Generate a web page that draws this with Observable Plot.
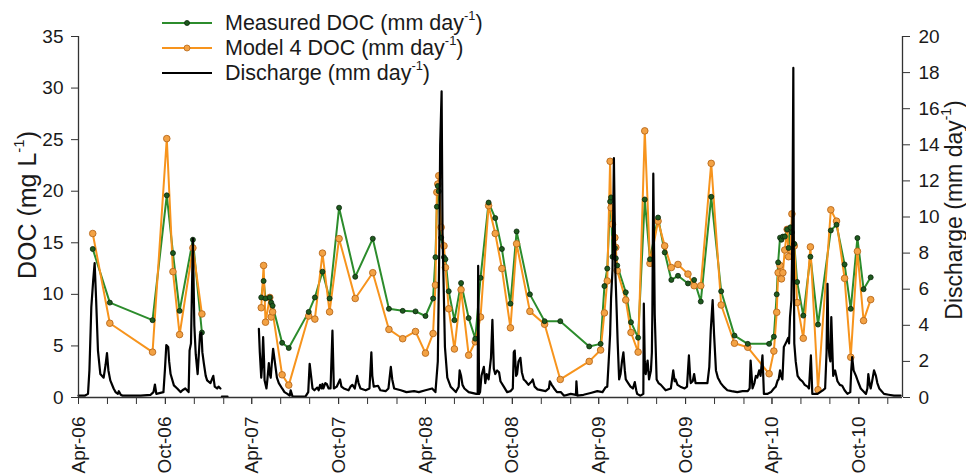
<!DOCTYPE html>
<html>
<head>
<meta charset="utf-8">
<script src="https://cdn.jsdelivr.net/npm/d3@7"></script>
<script src="https://cdn.jsdelivr.net/npm/@observablehq/plot@0.6"></script>
<style>
  body { margin: 0; background: #fff; }
  #wrap { position: relative; width: 966px; height: 475px; font-family: "Liberation Sans", Arial, sans-serif; color: #1a1a1a; }
  #wrap > svg { position: absolute; left: 0; top: 0; }
  .lrow { position: absolute; left: 162px; height: 26px; display: flex; align-items: center; white-space: nowrap; font-size: 21.5px; }
  .lrow svg { display: block; margin-right: 13px; flex: none; }
  sup { font-size: 0.6em; line-height: 0; vertical-align: 0.75em; }
  .atitle { position: absolute; white-space: nowrap; transform: translate(-50%, -50%) rotate(-90deg); }
</style>
</head>
<body>
<div id="wrap"></div>
<script>
// ---- DOC samples (mg L-1) ----
const sampleDates = [
  "2006-05-01","2006-06-06","2006-09-04","2006-10-04","2006-10-17","2006-10-31","2006-11-28","2006-12-17",
  "2007-04-21","2007-04-26","2007-04-30","2007-05-09","2007-05-12","2007-05-15","2007-06-04","2007-06-18",
  "2007-07-30","2007-08-12","2007-08-28","2007-09-12","2007-10-02","2007-11-05","2007-12-12","2008-01-15",
  "2008-02-13","2008-03-11","2008-04-01","2008-04-17","2008-04-22","2008-04-25","2008-04-27","2008-04-29",
  "2008-05-04","2008-05-10","2008-05-13","2008-05-20","2008-06-01","2008-06-15","2008-07-01","2008-07-15",
  "2008-07-26","2008-08-12","2008-08-26","2008-09-09","2008-09-27","2008-10-10","2008-11-07","2008-12-08",
  "2009-01-10","2009-03-12","2009-04-05","2009-04-13","2009-04-19","2009-04-25","2009-04-27","2009-04-30",
  "2009-05-05","2009-05-07","2009-05-10","2009-05-28","2009-06-08","2009-06-23","2009-07-07","2009-07-18",
  "2009-08-04","2009-08-18","2009-09-01","2009-09-15","2009-10-06","2009-10-19","2009-11-02","2009-11-24",
  "2009-12-15","2010-01-12","2010-02-09","2010-03-26","2010-04-05","2010-04-11","2010-04-14","2010-04-18",
  "2010-04-21","2010-04-24","2010-04-28","2010-05-03","2010-05-06","2010-05-10","2010-05-13","2010-05-18",
  "2010-05-24","2010-06-06","2010-06-21","2010-07-07","2010-08-03","2010-08-15","2010-09-01","2010-09-14",
  "2010-09-28","2010-10-11","2010-10-26"
];
const measuredDOC = [
  14.4, 9.2, 7.5, 19.6, 14.0, 8.4, 15.3, 6.3,
  9.7, 11.3, 9.6, 9.7, 9.2, 8.9, 5.3, 4.8,
  8.3, 9.7, 12.2, 9.6, 18.4, 11.7, 15.4, 8.6,
  8.4, 8.35, 7.9, 9.6, 13.6, 18.5, 20.5, 20.0,
  15.5, 13.6, 13.4, 10.3, 7.5, 11.1, 7.7, 5.7,
  11.6, 18.9, 17.4, 14.4, 9.1, 16.1, 10.0, 7.4,
  7.4, 4.95, 5.2, 10.8, 12.5, 19.0, 19.4, 13.65,
  14.5, 13.5, 12.8, 10.2, 7.3, 5.8, 19.2, 13.4,
  17.45, 14.07, 11.4, 11.8, 11.06, 11.4, 9.3, 19.46,
  10.3, 6.0, 5.2, 5.2, 5.9, 10.0, 13.1, 15.5,
  15.3, 15.6, 15.6, 16.3, 14.5, 16.5, 16.0, 14.9,
  11.2, 7.94, 13.65, 7.07, 16.2, 16.75, 12.9, 8.6,
  15.46, 10.5, 11.65
];
const modelDOC = [
  15.9, 7.2, 4.4, 25.1, 12.2, 6.1, 14.5, 8.1,
  8.7, 12.8, 7.3, 9.7, 7.8, 8.3, 2.2, 1.2,
  7.9, 7.6, 14.0, 8.3, 15.4, 9.6, 12.1, 6.6,
  5.7, 6.4, 4.3, 6.2, 10.9, 19.9, 20.7, 21.5,
  16.5, 14.7, 12.6, 8.6, 4.7, 10.45, 4.1, 5.4,
  7.8, 18.6, 15.9, 12.5, 6.75, 14.9, 8.35, 7.1,
  1.75, 3.5, 4.6, 8.2, 11.3, 22.9, 18.4, 16.8,
  15.5, 14.55, 12.3, 9.45, 6.3, 4.4, 25.85, 13.0,
  17.1, 14.7, 12.6, 12.9, 11.97, 10.84, 10.84, 22.7,
  8.97, 5.26, 4.87, 2.3, 4.5, 8.26, 12.1, 12.8,
  11.5, 12.1, 14.3, 16.3, 13.65, 14.3, 17.8, 14.7,
  9.2, 5.74, 14.6, 0.75, 18.2, 17.1, 11.55, 3.9,
  14.17, 7.45, 9.49
];
// sampling break (winter 2006/07, no samples)
const gapDate = "2007-02-01";

// ---- Discharge (mm day-1): days since 1 Apr 2006, value; null = no record ----
const qStart = "2006-04-01";
const qDay = [
  0,13,20,23,27,31,34,37,41,46,53,57,60,63,67,74,78,83,85,89,93,131,152,158,161,164,179,182,185,189,191,194,
  201,208,215,219,225,232,234,237,241,244,247,251,256,259,261,264,268,271,278,281,284,287,292,295,299,300,302,314,320,
  380,382,385,387,389,391,392,396,398,401,403,405,407,410,412,414,418,422,429,434,440,445,447,451,478,484,487,490,493,
  497,503,506,509,512,514,516,520,523,527,531,535,538,544,551,554,559,569,573,577,582,587,590,594,605,613,617,619,622,
  631,636,647,653,658,661,665,679,691,707,717,731,745,752,757,760,762,765,767,772,777,784,795,801,803,806,809,813,822,
  838,841,842,844,846,849,854,857,860,864,869,872,875,878,882,886,889,896,903,910,915,917,919,922,924,927,931,934,938,
  942,948,955,957,961,967,984,991,993,997,1002,1008,1016,1023,1037,1048,1049,1051,1064,1079,1093,1104,1110,1114,1117,
  1120,1122,1125,1127,1128,1131,1134,1136,1139,1142,1145,1148,1151,1153,1158,1163,1168,1172,1175,1177,1184,1190,1191,
  1193,1195,1199,1202,1206,1208,1209,1211,1214,1218,1222,1227,1237,1248,1253,1256,1258,1262,1268,1277,1282,1286,1289,
  1290,1294,1297,1300,1311,1325,1329,1332,1336,1339,1343,1347,1353,1359,1367,1376,1388,1399,1410,1414,1416,1420,1424,
  1427,1430,1434,1437,1441,1444,1451,1459,1465,1469,1473,1475,1478,1480,1483,1486,1490,1495,1497,1499,1502,1504,1506,
  1507,1508,1511,1515,1520,1525,1530,1536,1539,1543,1546,1557,1568,1573,1576,1578,1580,1582,1584,1586,1589,1590,1594,
  1599,1604,1609,1614,1620,1626,1628,1630,1633,1638,1642,1648,1659,1662,1664,1667,1669,1672,1676,1680,1683,1687,1697,
  1707,1718,1732
];
const qVal = [
  0.1,0.1,0.2,1.5,5.0,6.5,7.45,5.5,2.6,1.3,1.1,1.8,2.46,1.5,0.95,0.5,0.3,0.2,0.35,0.15,0.1,0.1,0.15,0.3,0.72,0.2,0.3,1.5,2.9,2.8,2.0,1.3,
  0.67,0.5,0.3,0.4,0.5,0.3,2.6,3.0,8.8,4.0,2.4,1.3,3.5,3.6,2.5,1.9,1.2,0.95,0.8,1.0,1.2,0.6,0.5,0.6,0.5,null,0.05,0.05,null,
  3.8,2.5,1.1,1.8,3.35,2.0,0.95,0.5,1.0,1.9,1.3,1.1,1.8,2.7,2.3,1.9,1.1,0.8,0.5,0.3,0.2,0.1,0.4,0.05,0.05,0.3,1.87,1.2,0.5,
  0.4,0.55,0.4,0.7,0.5,0.75,0.5,0.8,0.75,0.5,0.5,3.7,0.5,0.6,1.0,0.6,0.5,0.4,0.6,0.7,0.5,1.2,0.8,0.5,0.4,0.5,2.5,1.2,0.6,
  0.65,0.4,0.35,0.5,1.7,1.0,0.5,0.4,0.3,0.35,0.3,0.4,0.5,0.3,2.0,8.0,14.0,16.96,9.0,2.8,1.1,0.6,0.3,0.6,1.5,1.2,0.7,0.5,0.3,
  0.2,0.2,7.3,0.2,0.3,1.2,1.7,0.8,1.3,1.0,2.2,4.3,1.6,1.3,1.5,1.4,0.9,0.6,0.3,0.35,0.5,2.5,2.6,1.2,1.3,2.0,2.2,1.4,1.0,
  0.9,0.7,0.9,1.0,0.6,0.45,0.35,0.5,0.9,0.7,0.5,0.3,0.3,0.1,0.2,0.15,0.9,0.1,0.15,0.25,0.35,0.3,0.55,0.6,2.0,
  3.5,5.5,7.06,11.0,13.26,7.0,4.65,3.0,1.0,1.3,2.0,2.5,1.5,1.0,0.8,0.6,0.5,0.85,0.4,0.2,0.1,0.2,5.2,
  2.0,1.3,2.05,1.0,1.5,2.5,4.65,12.4,4.6,1.0,0.8,0.7,0.4,0.5,1.5,0.9,1.0,0.7,0.6,0.5,0.6,2.33,1.0,
  0.8,0.9,1.3,0.8,0.8,0.8,1.7,3.7,5.4,3.5,1.5,1.1,0.8,0.6,0.4,0.35,0.3,0.35,0.35,0.5,2.05,0.5,0.8,
  1.2,1.1,1.5,1.2,2.33,0.2,0.2,0.3,0.5,0.6,0.95,1.0,1.5,1.2,1.0,2.8,3.0,3.3,3.0,4.46,5.4,9.0,18.26,
  8.0,3.0,2.0,1.2,1.0,0.9,0.7,0.6,0.5,2.33,0.2,0.2,0.4,0.5,2.5,6.3,3.0,2.3,2.0,4.46,2.0,1.2,1.5,
  0.9,0.7,0.65,0.4,0.2,0.3,1.5,2.24,1.5,1.2,0.9,0.5,0.2,0.5,1.3,0.7,0.5,0.9,1.5,1.2,0.8,0.5,0.2,
  0.15,0.1,0.1
];

// ---- axes ----
const xDomain = ["2006-04-01", "2011-01-01"];
const xLabelTicks = ["2006-04-01","2006-10-01","2007-04-01","2007-10-01","2008-04-01","2008-10-01","2009-04-01","2009-10-01","2010-04-01","2010-10-01"];
const docTicks = [0, 5, 10, 15, 20, 25, 30, 35];
const qTicks = [0, 2, 4, 6, 8, 10, 12, 14, 16, 18, 20];
const docMax = 35, qMax = 20;

// ---- build tables ----
const k = docMax / qMax;
const x0 = new Date(xDomain[0]), x1 = new Date(xDomain[1]);
const gap = new Date(gapDate);
const docRows = sampleDates.map((s, i) => {
  const date = new Date(s);
  return { date, measured: measuredDOC[i], model: modelDOC[i], period: date < gap ? "a" : "b" };
});
const q0 = new Date(qStart);
const qRows = qDay.map((n, i) => ({ date: d3.utcDay.offset(q0, n), q: qVal[i] }));
const minorTicks = d3.utcMonth.range(x0, d3.utcDay.offset(x1, 1), 2);
const fmt = d3.utcFormat("%b-%y");

const GREEN = "#2c8c2c", ORANGE = "#f7941d";
const axisColor = "#333";

const chart = Plot.plot({
  width: 966, height: 475,
  marginLeft: 78, marginRight: 64, marginTop: 36, marginBottom: 78,
  x: { type: "utc", domain: [x0, x1] },
  y: { domain: [0, docMax] },
  style: { fontFamily: "'Liberation Sans', Arial, sans-serif", fontSize: "19px", color: "#1a1a1a", background: "transparent", overflow: "visible" },
  marks: [
    Plot.line(docRows, { x: "date", y: "measured", z: "period", stroke: GREEN, strokeWidth: 2 }),
    Plot.line(docRows, { x: "date", y: "model", z: "period", stroke: ORANGE, strokeWidth: 2 }),
    Plot.dot(docRows, { x: "date", y: "model", r: 3.3, fill: "#f3a244", stroke: "#b8691c", strokeWidth: 0.9 }),
    Plot.dot(docRows, { x: "date", y: "measured", r: 2.5, fill: "#1e5a1e", stroke: "#0b260b", strokeWidth: 0.8 }),
    Plot.line(qRows, { x: "date", y: d => d.q == null ? NaN : d.q * k, stroke: "#000", strokeWidth: 2.2 }),
    Plot.ruleY([0], { stroke: axisColor, strokeWidth: 1.3 }),
    Plot.ruleX([x0], { stroke: axisColor, strokeWidth: 1.3 }),
    Plot.ruleX([x1], { stroke: axisColor, strokeWidth: 1.3 }),
    Plot.axisX(minorTicks, { tickSize: 7, tickFormat: () => "", label: null, stroke: axisColor }),
    Plot.axisX(xLabelTicks.map(s => new Date(s)), { tickSize: 7, tickRotate: -90, tickPadding: 12, tickFormat: fmt, label: null, stroke: axisColor }),
    Plot.axisY(docTicks, { anchor: "left", tickSize: 7, tickPadding: 8, label: null, stroke: axisColor }),
    Plot.axisY(qTicks.map(v => v * k), { anchor: "right", tickSize: 7, tickPadding: 9, label: null, stroke: axisColor, tickFormat: d => String(Math.round(d / k)) })
  ]
});

const wrap = document.getElementById("wrap");
wrap.appendChild(chart);

// ---- legend (overlaid on the plot area) ----
const legendItems = [
  { label: "Measured DOC (mm day<sup>-1</sup>)", color: GREEN, dot: { r: 2.5, fill: "#1e5a1e", stroke: "#0b260b" }, cy: 23 },
  { label: "Model 4 DOC (mm day<sup>-1</sup>)", color: ORANGE, dot: { r: 3, fill: "#f3a244", stroke: "#b8691c" }, cy: 48 },
  { label: "Discharge (mm day<sup>-1</sup>)", color: "#000", dot: null, cy: 73 }
];
for (const it of legendItems) {
  const row = document.createElement("div");
  row.className = "lrow";
  row.style.top = (it.cy - 13) + "px";
  const dot = it.dot ? `<circle cx="25" cy="6" r="${it.dot.r}" fill="${it.dot.fill}" stroke="${it.dot.stroke}" stroke-width="0.8"/>` : "";
  row.innerHTML = `<svg width="50" height="12"><line x1="0" x2="50" y1="6" y2="6" stroke="${it.color}" stroke-width="2"/>${dot}</svg><span>${it.label}</span>`;
  wrap.appendChild(row);
}

// ---- axis titles ----
const leftTitle = document.createElement("div");
leftTitle.className = "atitle";
leftTitle.style.fontSize = "25px";
leftTitle.style.left = "27px"; leftTitle.style.top = "205px";
leftTitle.innerHTML = "DOC (mg L<sup>-1</sup>)";
wrap.appendChild(leftTitle);

const rightTitle = document.createElement("div");
rightTitle.className = "atitle";
rightTitle.style.fontSize = "23px";
rightTitle.style.left = "954px"; rightTitle.style.top = "210px";
rightTitle.innerHTML = "Discharge (mm day<sup>-1</sup>)";
wrap.appendChild(rightTitle);
</script>
</body>
</html>
